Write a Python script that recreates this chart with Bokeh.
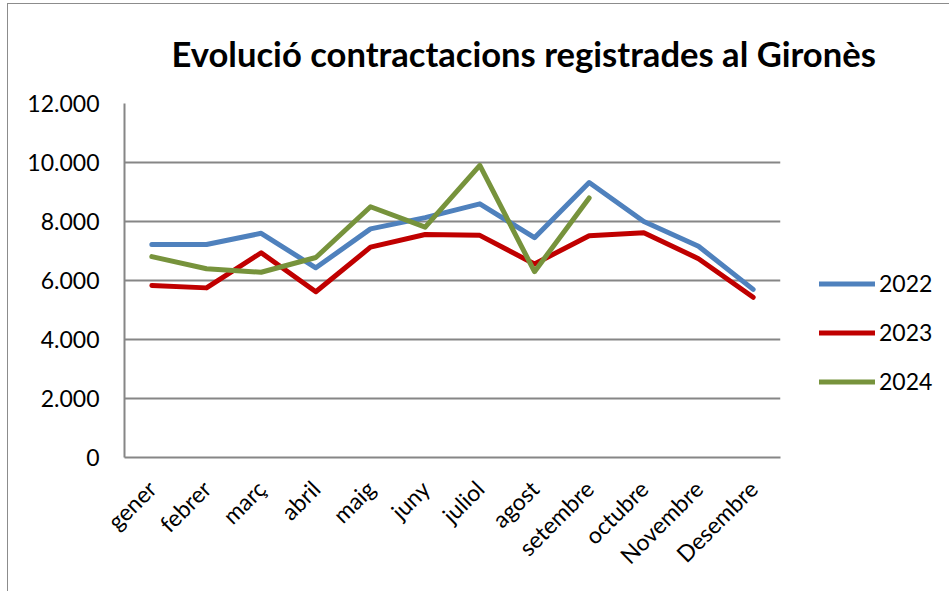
from math import pi
from bokeh.plotting import figure
from bokeh.models import (FactorRange, Range1d, FixedTicker, Legend, LegendItem, Title)
from bokeh.embed import file_html
from bokeh.resources import INLINE

months = ["gener", "febrer", "març", "abril", "maig", "juny", "juliol",
          "agost", "setembre", "octubre", "Novembre", "Desembre"]
v2022 = [7220, 7220, 7600, 6430, 7750, 8130, 8600, 7450, 9320, 8000, 7160, 5700]
v2023 = [5830, 5750, 6940, 5620, 7130, 7560, 7530, 6560, 7520, 7620, 6740, 5430]
v2024 = [6810, 6400, 6280, 6780, 8500, 7810, 9900, 6300, 8800]
y_ticks = [0, 2000, 4000, 6000, 8000, 10000, 12000]
y_tick_labels = ["0", "2.000", "4.000", "6.000", "8.000", "10.000", "12.000"]
title_text = "Evolució contractacions registrades al Gironès"

FONT = "Lato"

p = figure(x_range=FactorRange(*months), y_range=Range1d(0, 12000),
           frame_width=656, frame_height=354,
           min_border_left=116, min_border_right=161,
           min_border_top=99, min_border_bottom=134,
           output_backend="svg", toolbar_location=None,
           background_fill_color="white", border_fill_color="white")
p.outline_line_color = None
p.x_range.range_padding = 0

r1 = p.line(months, v2022, line_color="#4F81BD", line_width=5, line_join="round", line_cap="round")
r2 = p.line(months, v2023, line_color="#C00000", line_width=5, line_join="round", line_cap="round")
r3 = p.line(months[:len(v2024)], v2024, line_color="#77933C", line_width=5, line_join="round", line_cap="round")

# axes
p.yaxis.ticker = FixedTicker(ticks=y_ticks)
p.yaxis.major_label_overrides = {t: l for t, l in zip(y_ticks, y_tick_labels)}
p.yaxis.major_tick_in = 0
p.yaxis.major_tick_out = 0
p.yaxis.minor_tick_in = 0
p.yaxis.minor_tick_out = 0
p.yaxis.major_label_standoff = 25
p.yaxis.axis_line_color = "#868686"
p.yaxis.axis_line_width = 2
p.yaxis.major_label_text_font = FONT
p.yaxis.major_label_text_font_size = "23px"
p.yaxis.major_label_text_color = "black"

p.xaxis.major_tick_in = 0
p.xaxis.major_tick_out = 0
p.xaxis.major_label_orientation = pi / 4
p.xaxis.major_label_standoff = 27
p.xaxis.axis_line_color = "#868686"
p.xaxis.axis_line_width = 2
p.xaxis.major_label_text_font = FONT
p.xaxis.major_label_text_font_size = "23px"
p.xaxis.major_label_text_color = "black"

p.xgrid.grid_line_color = None
p.ygrid.grid_line_color = "#868686"
p.ygrid.grid_line_width = 2

# title
p.add_layout(Title(text=title_text, text_font=FONT, text_font_style="bold",
                   text_font_size="34.6px", align="left", offset=47,
                   vertical_align="top", text_color="black", standoff=56), "above")

legend = Legend(items=[LegendItem(label="2022", renderers=[r1]),
                       LegendItem(label="2023", renderers=[r2]),
                       LegendItem(label="2024", renderers=[r3])],
                location=(39, 62), orientation="vertical",
                glyph_width=56, glyph_height=27, label_height=27,
                label_standoff=4, spacing=21, padding=0, margin=0,
                border_line_alpha=0, background_fill_alpha=0,
                label_text_font=FONT, label_text_font_size="23px",
                label_text_color="black")
p.add_layout(legend, "right")

p.styles = {"border-left": "1px solid #8c8c8c", "border-top": "1px solid #8c8c8c",
            "margin-left": "7px", "margin-top": "3px"}

open("out.html", "w").write(file_html(p, INLINE))
